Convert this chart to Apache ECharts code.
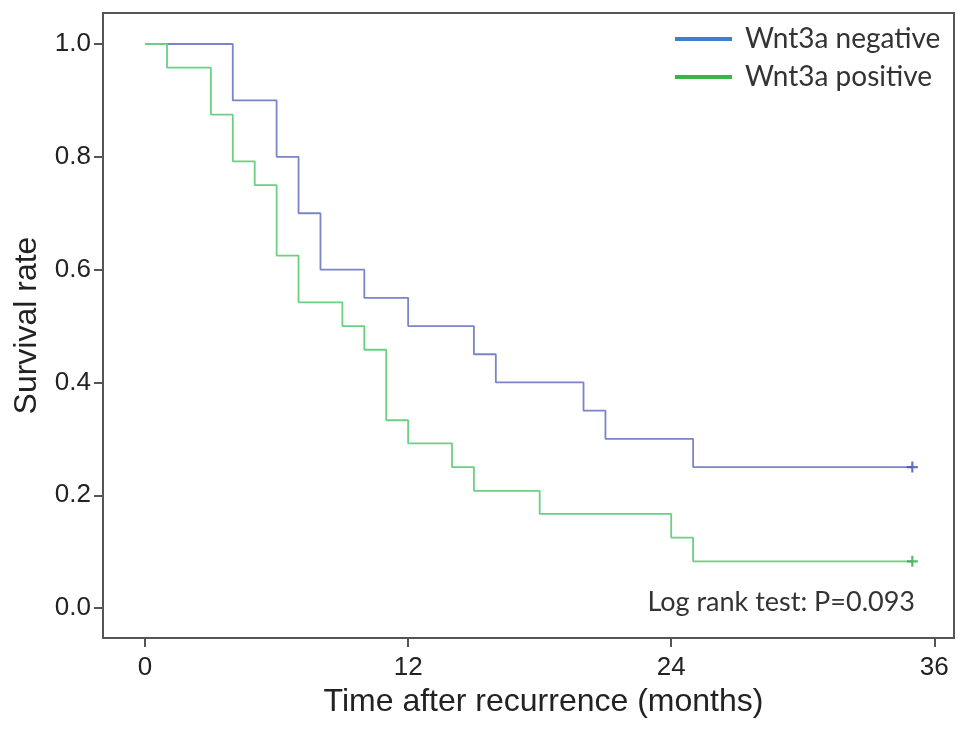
<!DOCTYPE html>
<html>
<head>
<meta charset="utf-8">
<script src="https://cdn.jsdelivr.net/npm/echarts@6/dist/echarts.min.js"></script>
<style>html,body{margin:0;padding:0;background:#fff}#c{width:969px;height:733px}</style>
</head>
<body>
<div id="c"></div>
<script>
// Kaplan-Meier step points [time (months), survival]
const negTimes = [0, 4, 6, 7, 8, 10, 12, 15, 16, 20, 21, 25, 35];
const negSurv  = [1.0, 0.9, 0.8, 0.7, 0.6, 0.55, 0.5, 0.45, 0.4, 0.35, 0.3, 0.25, 0.25];
const posTimes = [0, 1, 3, 4, 5, 6, 7, 9, 10, 11, 12, 14, 15, 18, 24, 25, 35];
const posSurv  = [1.0, 0.958, 0.875, 0.792, 0.75, 0.625, 0.542, 0.5, 0.458, 0.333, 0.292, 0.25, 0.208, 0.167, 0.125, 0.083, 0.083];
const negCensor = [[35, 0.25]];
const posCensor = [[35, 0.083]];
const xTicks = [0, 12, 24, 36];
const yTicks = [0, 0.2, 0.4, 0.6, 0.8, 1.0];
const seriesNames = ['Wnt3a negative', 'Wnt3a positive'];
const pValueText = 'Log rank test: P=0.093';

const zip = (a, b) => a.map((v, i) => [v, b[i]]);
const plus = 'path://M4,0 H6 V4 H10 V6 H6 V10 H4 V6 H0 V4 H4 Z';

const chart = echarts.init(document.getElementById('c'), null, {renderer: 'canvas'});
chart.setOption({
  animation: false,
  backgroundColor: '#fff',
  grid: {left: 103, top: 13, right: 15, bottom: 95, show: true, borderColor: '#555', borderWidth: 2, backgroundColor: 'transparent'},
  legend: {
    orient: 'vertical', left: 670, top: 20, itemGap: 10, itemWidth: 57, itemHeight: 4,
    icon: 'rect',
    textStyle: {fontFamily: 'Lato', fontSize: 28, color: '#333', padding: [0, 0, 0, 8]},
    data: [
      {name: seriesNames[0], itemStyle: {color: '#3b7fd4'}},
      {name: seriesNames[1], itemStyle: {color: '#3cb44b'}}
    ]
  },
  xAxis: {
    type: 'value', min: -1.92, max: 36.9,
    name: 'Time after recurrence (months)', nameLocation: 'middle', nameGap: 48,
    nameTextStyle: {fontFamily: 'Liberation Sans', fontSize: 32, color: '#222', padding: [0, 0, 0, 30]},
    axisLine: {show: true, onZero: false, lineStyle: {color: '#555', width: 2}},
    axisTick: {show: true, length: 9, customValues: xTicks, lineStyle: {color: '#555', width: 2}},
    axisLabel: {customValues: xTicks, fontFamily: 'Liberation Sans', fontSize: 26, color: '#222', margin: 17},
    splitLine: {show: false}
  },
  yAxis: {
    type: 'value', min: -0.053, max: 1.055,
    name: 'Survival rate', nameLocation: 'middle', nameGap: 60,
    nameTextStyle: {fontFamily: 'Liberation Sans', fontSize: 32, color: '#222'},
    axisLine: {show: true, onZero: false, lineStyle: {color: '#555', width: 2}},
    axisTick: {show: true, length: 9, customValues: yTicks, lineStyle: {color: '#555', width: 2}},
    axisLabel: {customValues: yTicks, fontFamily: 'Liberation Sans', fontSize: 26, color: '#222', margin: 12,
      formatter: v => v.toFixed(1)},
    splitLine: {show: false}
  },
  series: [
    {name: seriesNames[0], type: 'line', step: 'end', data: zip(negTimes, negSurv), showSymbol: false,
     lineStyle: {color: '#7a84c8', width: 1.8}, itemStyle: {color: '#3b7fd4'}},
    {name: seriesNames[1], type: 'line', step: 'end', data: zip(posTimes, posSurv), showSymbol: false,
     lineStyle: {color: '#6ccf84', width: 1.8}, itemStyle: {color: '#3cb44b'}},
    {name: 'negCensor', type: 'scatter', data: negCensor, symbol: plus, symbolSize: 11,
     itemStyle: {color: '#3f51b0'}, z: 5},
    {name: 'posCensor', type: 'scatter', data: posCensor, symbol: plus, symbolSize: 11,
     itemStyle: {color: '#2ea848'}, z: 5}
  ],
  graphic: [{
    type: 'text', right: 54, top: 589,
    style: {text: pValueText, fontFamily: 'Lato', fontSize: 27, fill: '#333'}
  }]
});
</script>
</body>
</html>
